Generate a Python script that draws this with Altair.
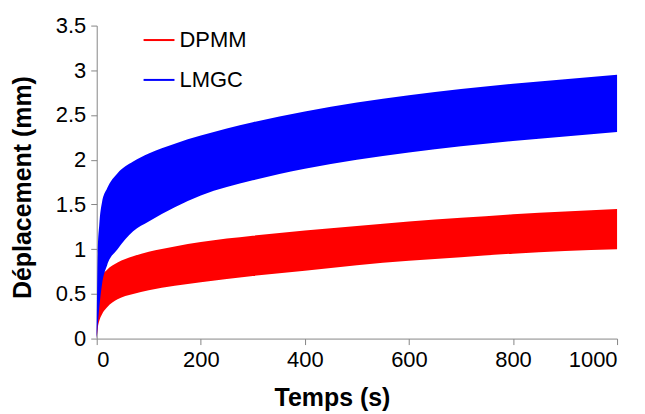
import altair as alt
import pandas as pd

# Time (s)
temps = [0, 2, 5, 10, 20, 40, 70, 100, 150, 200, 300, 400, 500, 600, 700, 800, 900, 1000]

# Envelopes of the oscillating displacement signals (mm)
lmgc_haut = [0, 0.95, 1.28, 1.52, 1.68, 1.85, 1.98, 2.07, 2.18, 2.27, 2.42, 2.54, 2.64, 2.72, 2.79, 2.85, 2.90, 2.95]
lmgc_bas = [0, 0.15, 0.35, 0.60, 0.82, 1.00, 1.20, 1.31, 1.47, 1.60, 1.77, 1.90, 2.00, 2.08, 2.15, 2.21, 2.26, 2.31]
dpmm_haut = [0, 0.45, 0.62, 0.70, 0.77, 0.85, 0.92, 0.97, 1.03, 1.08, 1.15, 1.21, 1.26, 1.31, 1.35, 1.39, 1.42, 1.45]
dpmm_bas = [0, 0.12, 0.20, 0.27, 0.35, 0.44, 0.50, 0.54, 0.59, 0.63, 0.70, 0.76, 0.82, 0.87, 0.91, 0.95, 0.98, 1.00]

series = ["DPMM", "LMGC"]
couleurs = ["#FF0000", "#0000FF"]

rows = []
for t, h, b in zip(temps, dpmm_haut, dpmm_bas):
    rows.append({"t": t, "haut": h, "bas": b, "serie": "DPMM", "ordre": 0})
for t, h, b in zip(temps, lmgc_haut, lmgc_bas):
    rows.append({"t": t, "haut": h, "bas": b, "serie": "LMGC", "ordre": 1})
df = pd.DataFrame(rows)

font = "Liberation Sans"

chart = alt.Chart(df).mark_area(strokeWidth=0, opacity=1, interpolate="monotone").encode(
    x=alt.X("t:Q", scale=alt.Scale(domain=[0, 1000], nice=False),
            axis=alt.Axis(title="Temps (s)", values=[0, 200, 400, 600, 800, 1000],
                          format="d", titleX=236)),
    y=alt.Y("haut:Q", scale=alt.Scale(domain=[0, 3.5], nice=False),
            axis=alt.Axis(title="Déplacement (mm)", values=[0, 0.5, 1, 1.5, 2, 2.5, 3, 3.5],
                          format="~g", titleY=162)),
    y2="bas:Q",
    fill=alt.Fill("serie:N", scale=alt.Scale(domain=series, range=couleurs),
                  legend=alt.Legend(title=None, orient="none", legendX=46, legendY=-2,
                                    symbolType="stroke", symbolSize=961,
                                    symbolStrokeWidth=2, labelFontSize=22,
                                    labelFont=font, labelOffset=4, rowPadding=12,
                                    labelColor="#000000")),
    stroke=alt.Stroke("serie:N", scale=alt.Scale(domain=series, range=couleurs)),
    order="ordre:Q",
    detail="serie:N",
).properties(
    width=522,
    height=314,
    autosize=alt.AutoSizeParams(type="none"),
    padding={"left": 89, "top": 17, "right": 20, "bottom": 75},
).configure_view(
    stroke=None
).configure_axis(
    grid=False,
    domainColor="#868686",
    tickColor="#868686",
    tickSize=6,
    labelFont=font,
    labelFontSize=22,
    labelColor="#000000",
    labelPadding=5,
    titleFont=font,
    titleFontSize=25,
    titleFontWeight="bold",
    titleColor="#000000",
).configure_axisY(
    titlePadding=20,
).configure_axisX(
    titlePadding=15,
)

chart.save("out.html", embed_options={"renderer": "svg", "actions": False})
